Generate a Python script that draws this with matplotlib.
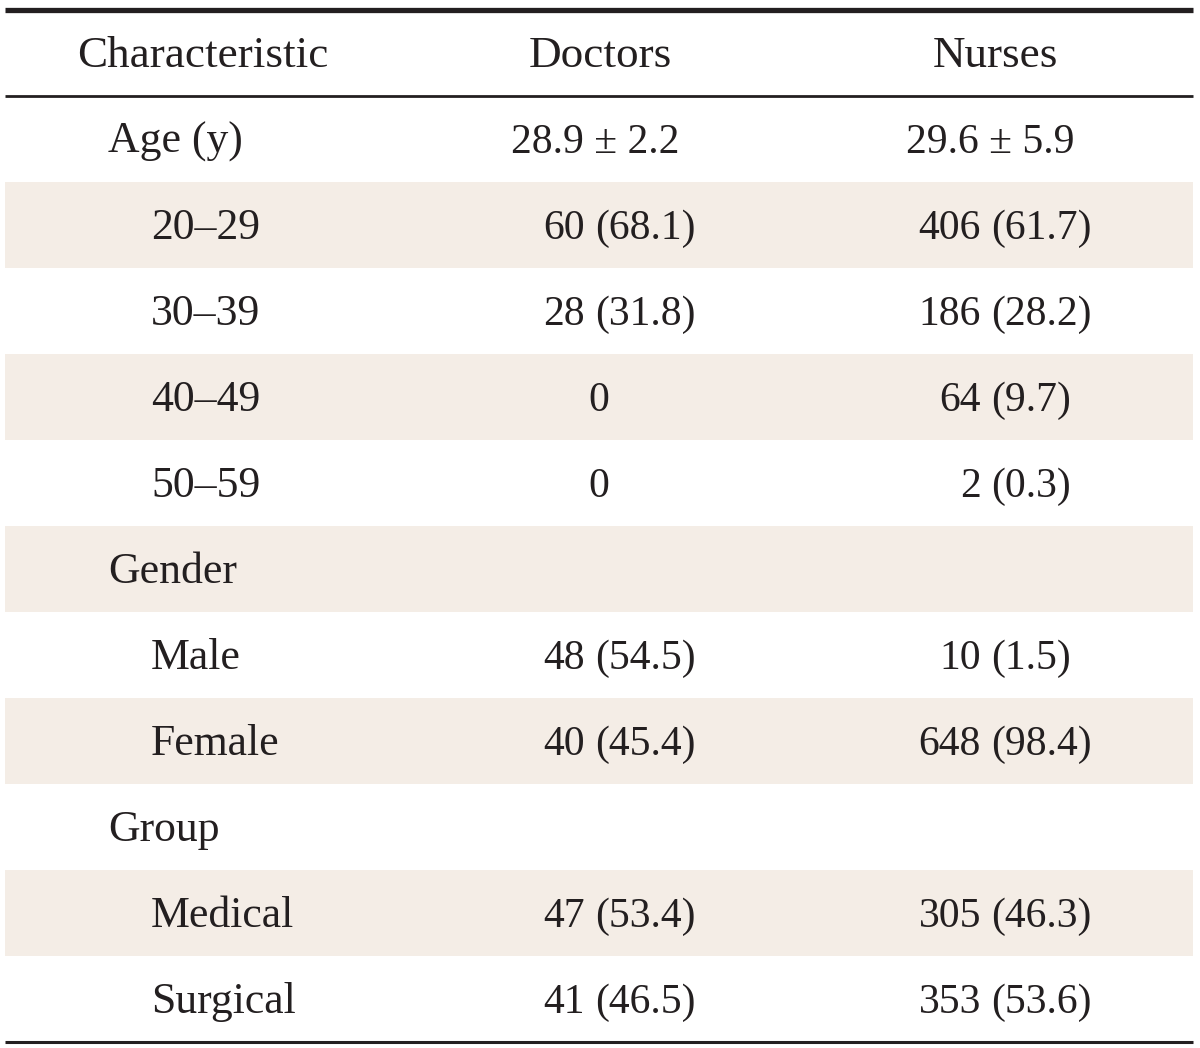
import matplotlib
matplotlib.use("Agg")
import matplotlib.pyplot as plt

# table content
headers = ["Characteristic", "Doctors", "Nurses"]
row_labels = ["Age (y)", "20–29", "30–39", "40–49", "50–59", "Gender",
              "Male", "Female", "Group", "Medical", "Surgical"]
indented = [False, True, True, True, True, False, True, True, False, True, True]
shaded = [False, True, False, True, False, True, False, True, False, True, False]
doctors_n = ["28.9 ± 2.2", "60", "28", "0", "0", "", "48", "40", "", "47", "41"]
doctors_pct = ["", "(68.1)", "(31.8)", "", "", "", "(54.5)", "(45.4)", "", "(53.4)", "(46.5)"]
nurses_n = ["29.6 ± 5.9", "406", "186", "64", "2", "", "10", "648", "", "305", "353"]
nurses_pct = ["", "(61.7)", "(28.2)", "(9.7)", "(0.3)", "", "(1.5)", "(98.4)", "", "(46.3)", "(53.6)"]

W, H = 1200, 1048
fig = plt.figure(figsize=(W / 100, H / 100), dpi=100)
ax = fig.add_axes([0, 0, 1, 1])
ax.set_xlim(0, W)
ax.set_ylim(H, 0)
ax.axis("off")

ink = "#231f20"
head_font = dict(family="Liberation Serif", size=32.5, color=ink)
lab_font = dict(family="Liberation Serif", size=31.5, color=ink)
val_font = dict(family="Liberation Serif", size=30, color=ink)
left, right = 5, 1193
row_h = 86
top = 96
base = 14  # baseline offset below row centre
cols = [(590, 595), (986, 990)]  # (split for n/pct, centre for single text)

# rules
ax.plot([left, right], [9.5, 9.5], color=ink, lw=3.8, solid_capstyle="butt")
ax.plot([left, right], [95.5, 95.5], color=ink, lw=2.0, solid_capstyle="butt")

for x, h in zip([203, 600, 995], headers):
    ax.text(x, 52 + base + 1, h, ha="center", va="baseline", **head_font)

for i, lab in enumerate(row_labels):
    y0 = top + i * row_h
    yb = y0 + row_h / 2 + base
    if shaded[i]:
        ax.add_patch(plt.Rectangle((left, y0), right - left, row_h,
                                   color="#f4ede6", lw=0, zorder=0))
    ax.text(151 if indented[i] else 108, yb, lab, ha="left", va="baseline", **lab_font)
    for (split, centre), n, p in zip(cols, [doctors_n[i], nurses_n[i]],
                                     [doctors_pct[i], nurses_pct[i]]):
        if not n:
            continue
        if p:
            ax.text(split - 5, yb, n, ha="right", va="baseline", **val_font)
            ax.text(split + 5, yb, p, ha="left", va="baseline", **val_font)
        else:
            x = centre if "±" in n else split + 9
            ax.text(x, yb, n, ha="center", va="baseline", **val_font)

bottom = top + len(row_labels) * row_h
ax.plot([left, right], [bottom - 0.5, bottom - 0.5], color=ink, lw=2.2,
        solid_capstyle="butt")

fig.savefig("out.png", dpi=100)
